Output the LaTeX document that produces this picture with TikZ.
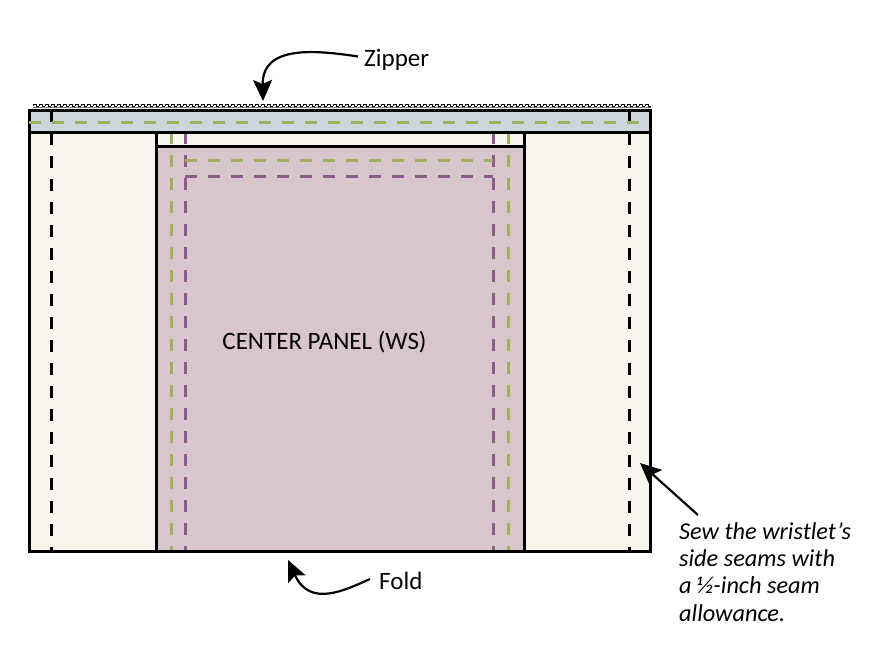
\documentclass[tikz,border=0pt]{standalone}
\usepackage{fontspec}
\setmainfont{Carlito}
\usetikzlibrary{arrows.meta}
\definecolor{bandblue}{HTML}{CDD6DC}
\definecolor{sidecream}{HTML}{F8F5EC}
\definecolor{panelpink}{HTML}{D8C6CD}
\definecolor{seamgreen}{HTML}{9DB25A}
\definecolor{seampurple}{HTML}{8E5A8E}
\begin{document}
\begin{tikzpicture}[x=1pt,y=-1pt]
  \tikzset{stitch/.style = {line width=3pt,dash pattern=on 12pt off 11pt}}
  \tikzset{edgeline/.style = {draw=black,line width=3pt}}
  \tikzset{callout/.style = {-{Stealth[length=21pt,width=19pt,inset=4pt]},line width=2.2pt}}
  \tikzset{caption/.style = {font=\fontsize{25}{29}\selectfont,inner sep=0pt}}
  \tikzset{note/.style = {font=\fontsize{24.3}{27.4}\selectfont\itshape,inner sep=0pt,align=left}}

  \useasboundingbox (0,0) rectangle (874,657);

  % fabric
  \fill[sidecream] (29,132) rectangle (650,551);
  \fill[bandblue] (29,110) rectangle (650,132);
  \fill[panelpink] (156,146) rectangle (524,551);

  % seams
  \draw[stitch,black] (51,110) -- (51,551);
  \draw[stitch,black] (629,110) -- (629,551);
  \draw[stitch,seamgreen] (171,132) -- (171,551);
  \draw[stitch,seamgreen] (508,132) -- (508,551);
  \draw[stitch,seampurple] (185,132) -- (185,551);
  \draw[stitch,seampurple] (493,132) -- (493,551);
  \draw[stitch,seamgreen] (185,160) -- (493,160);
  \draw[stitch,seampurple] (185,176) -- (493,176);

  % outlines
  \draw[edgeline] (29,110) rectangle (650,551);
  \draw[edgeline] (29,132) -- (650,132);
  \draw[edgeline] (156,132) -- (156,551);
  \draw[edgeline] (524,132) -- (524,551);
  \draw[edgeline] (156,146) -- (524,146);
  \draw[stitch,seamgreen] (29,122) -- (650,122);

  % zipper teeth
  \draw[black!55,line width=1pt] (33,107.5) -- (651,107.5);
  \foreach \i in {0,...,102}
    \draw[black,line width=0.9pt] ({33+6*\i},106) -- ({33+6*\i},104) -- ({36+6*\i},104) -- ({36+6*\i},106) -- ({39+6*\i},106);

  % labels
  \node[caption] (panel) at (324.5,342) {CENTER PANEL (WS)};
  \node[caption,anchor=west] (zipper) at (364,59.5) {Zipper};
  \node[caption,anchor=west] (fold) at (379,581) {Fold};
  \node[note,anchor=north west] (sew) at (679,522) {Sew the wristlet’s\\side seams with\\a ½-inch seam\\allowance.};

  \coordinate (zipperend) at (263,101);
  \coordinate (foldend) at (288,560);
  \coordinate (sewstart) at (698,515);
  \coordinate (sewend) at (640,463);

  % callouts
  \draw[callout] (zipper.west) ++(-6,-3) .. controls (315,50) and (262,45) .. (zipperend);
  \draw[callout] (fold.west) ++(-9,-2) .. controls (345,590) and (310,608) .. (foldend);
  \draw[callout] (sewstart) -- (sewend);
\end{tikzpicture}
\end{document}
